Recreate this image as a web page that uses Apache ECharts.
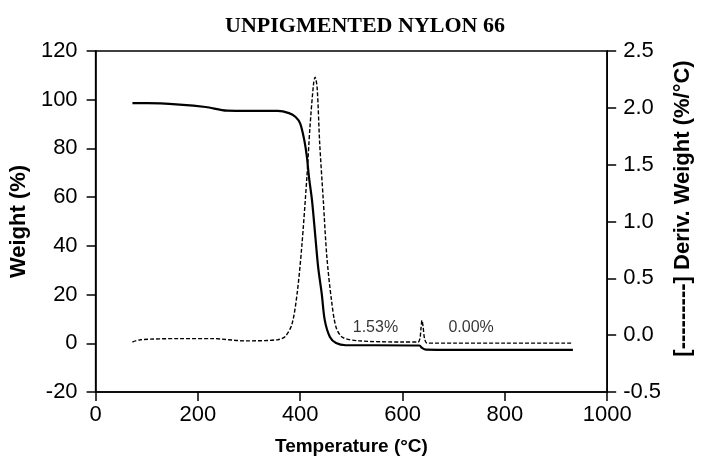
<!DOCTYPE html>
<html>
<head>
<meta charset="utf-8">
<script src="https://cdn.jsdelivr.net/npm/echarts@6/dist/echarts.min.js"></script>
<style>
  html, body { margin: 0; padding: 0; background: #fff; }
  #chart { width: 702px; height: 464px; }
</style>
</head>
<body>
<div id="chart"></div>
<script>
// TGA weight curve (left axis, %)
const tgaTemp   = [72, 101, 164, 215, 257, 300, 356, 378, 391, 400, 408, 413, 417, 423, 429, 435, 442, 448, 458, 470, 489, 547, 633, 638, 646, 700, 800, 933];
const tgaWeight = [98.6, 98.6, 98.0, 97.0, 95.5, 95.4, 95.4, 94.5, 92.9, 90.2, 83.3, 76.5, 68.3, 58.7, 45.0, 31.3, 20.4, 9.4, 2.6, 0.1, -0.8, -0.8, -0.9, -1.9, -2.6, -2.7, -2.7, -2.7];

// Derivative weight curve (right axis, %/°C)
const dtgTemp  = [72, 88, 164, 228, 292, 356, 371, 384, 394, 403, 413, 419, 426, 429, 433, 438, 445, 452, 461, 470, 483, 515, 600, 630, 634, 636, 638, 640, 643, 648, 700, 800, 933];
const dtgDeriv = [-0.06, -0.04, -0.03, -0.03, -0.05, -0.04, -0.01, 0.10, 0.37, 0.78, 1.39, 1.83, 2.21, 2.27, 2.18, 1.69, 1.19, 0.69, 0.31, 0.07, -0.02, -0.05, -0.06, -0.06, -0.03, 0.06, 0.13, 0.08, -0.03, -0.07, -0.07, -0.07, -0.07];

// Residue annotations
const residueLabels = ['1.53%', '0.00%'];
const residueTemp   = [547, 734];
const residueWeight = [6.6, 6.6];

// Axis ranges
const xRange  = [0, 1000, 200];
const yLeft   = [-20, 120, 20];
const yRight  = [-0.5, 2.5, 0.5];

const pair = (xs, ys) => xs.map((x, i) => [x, ys[i]]);

const chart = echarts.init(document.getElementById('chart'), null, { renderer: 'canvas' });

const axisFont = { fontFamily: 'Liberation Sans', fontSize: 22, color: '#000' };
const nameFont = { fontFamily: 'Liberation Sans', fontSize: 19, fontWeight: 'bold', color: '#000' };
const lineStyle = { color: '#000', width: 1.5 };

chart.setOption({
  animation: false,
  backgroundColor: '#fff',
  title: {
    text: 'UNPIGMENTED NYLON 66',
    left: 360, top: 10, textAlign: 'center',
    textStyle: { fontFamily: 'Liberation Serif', fontSize: 22, fontWeight: 'bold', color: '#000' }
  },
  grid: { left: 94, right: 85, top: 51, bottom: 72, show: true, borderColor: '#000', borderWidth: 1.5, backgroundColor: 'transparent' },
  xAxis: {
    type: 'value', min: xRange[0], max: xRange[1], interval: xRange[2],
    name: 'Temperature (°C)', nameLocation: 'middle', nameGap: 45, nameTextStyle: nameFont,
    axisLine: { show: true, onZero: false, lineStyle }, axisTick: { show: true, length: 9, lineStyle },
    axisLabel: { margin: 12, formatter: v => String(v), ...axisFont }, splitLine: { show: false }
  },
  yAxis: [
    {
      type: 'value', min: yLeft[0], max: yLeft[1], interval: yLeft[2], position: 'left',
      name: 'Weight (%)', nameLocation: 'middle', nameGap: 57, nameRotate: 90,
      nameTextStyle: { ...nameFont, fontSize: 22 },
      axisLine: { show: true, onZero: false, lineStyle }, axisTick: { show: true, length: 9, lineStyle },
      axisLabel: { margin: 18, ...axisFont }, splitLine: { show: false }
    },
    {
      type: 'value', min: yRight[0], max: yRight[1], interval: yRight[2], position: 'right',
      name: '[---------] Deriv. Weight (%/°C)', nameLocation: 'middle', nameGap: 57, nameRotate: 90,
      nameTextStyle: { ...nameFont, fontSize: 22, padding: [0, 0, 0, 26] },
      axisLine: { show: true, onZero: false, lineStyle }, axisTick: { show: true, length: 9, lineStyle },
      axisLabel: { margin: 16, formatter: v => v.toFixed(1), ...axisFont }, splitLine: { show: false }
    }
  ],
  series: [
    {
      name: 'Weight', type: 'line', yAxisIndex: 0, smooth: 0.3, showSymbol: false,
      data: pair(tgaTemp, tgaWeight),
      lineStyle: { color: '#000', width: 2.2 }
    },
    {
      name: 'Deriv. Weight', type: 'line', yAxisIndex: 1, smooth: 0.3, showSymbol: false,
      data: pair(dtgTemp, dtgDeriv),
      lineStyle: { color: '#000', width: 1.4, type: [4, 2] }
    },
    {
      name: 'Residue', type: 'scatter', yAxisIndex: 0, symbolSize: 0,
      data: residueTemp.map((t, i) => ({ value: [t, residueWeight[i]], name: residueLabels[i] })),
      label: { show: true, position: 'inside', formatter: p => p.name, fontFamily: 'Liberation Sans', fontSize: 16, color: '#000' }
    }
  ]
});
</script>
</body>
</html>
